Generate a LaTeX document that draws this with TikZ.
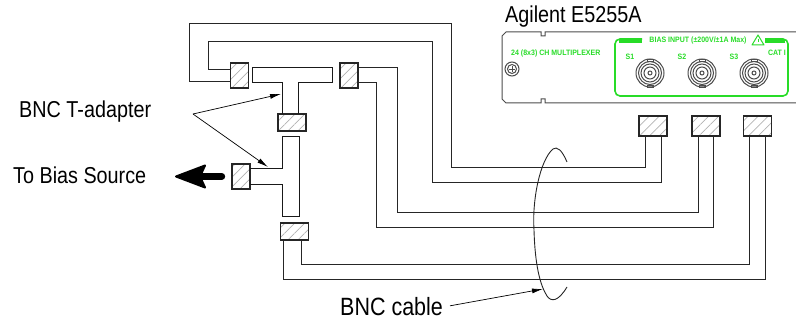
\documentclass[tikz,border=0pt]{standalone}
\usepackage{fontspec}
\setmainfont{Liberation Sans}[FakeStretch=0.86]
\newfontfamily\panelfont{Liberation Sans}[FakeStretch=0.9]
\usetikzlibrary{arrows.meta,patterns.meta}
\definecolor{panelgreen}{RGB}{40,220,40}
\tikzset{
    plug/.style={draw=black!85, line width=1.6pt, inner sep=0pt,
        pattern={Lines[angle=45,distance=7pt,line width=0.7pt]}, pattern color=black!30},
    vplug/.style={plug, minimum width=18pt, minimum height=25pt},
    hplug/.style={plug, minimum width=28pt, minimum height=18pt},
    cable/.style={draw=black!85, line width=0.9pt},
    adapter/.style={draw=black!90, line width=1pt},
    notetext/.style={font=\fontsize{23}{26}\selectfont, inner sep=0pt, anchor=base west},
    pointerline/.style={draw, line width=0.7pt, -{Latex[length=11pt,width=5pt]}},
    panelline/.style={draw=black!70, line width=1pt},
    greentext/.style={text=panelgreen, font=\panelfont\bfseries\fontsize{7.8}{8}\selectfont, inner sep=0pt}
}
\begin{document}
\begin{tikzpicture}[x=1pt, y=-1pt]
    \useasboundingbox (0,0) rectangle (796,320);

    % instrument panel
    \node (agilent) [notetext] at (505,23) {Agilent E5255A};
    \draw [panelline] (800,32) -- (545,32) -- (545,36) -- (541,36) -- (541,32) -- (506,32) -- (502,36)
        -- (502,99) -- (506,103) -- (541,103) -- (541,99) -- (545,99) -- (545,103) -- (800,103);
    \draw [panelline] (512,69) circle [radius=7pt];
    \draw [panelline] (512,69) circle [radius=4.5pt];
    \draw [panelline, line width=0.8pt] (509,69) -- (515,69) (512,66) -- (512,72);
    \node (muxlabel) [greentext, anchor=base west] at (511,56) {24 (8x3) CH MULTIPLEXER};

    \draw [draw=panelgreen, line width=1.6pt, rounded corners=5pt]
        (642,39) -- (615,39) -- (615,96) -- (788,96) -- (788,39) -- (765,39);
    \draw [draw=panelgreen, line width=4pt] (619,41) -- (642,41) (765,41) -- (785,41);
    \node (biasinput) [greentext] at (698,40) {BIAS INPUT (±200V/±1A Max)};
    \draw [draw=panelgreen, line width=1pt, line join=round] (752,45) -- (764,45) -- (758,35) -- cycle;
    \draw [draw=panelgreen, line width=1pt] (758,39) -- (758,42);
    \node (catlabel) [greentext] at (777,53) {CAT I};
    \foreach \sx/\sname in {650/S1, 702/S2, 754/S3} {
        \node [greentext] at (\sx-20,57) {\sname};
        \foreach \r in {14,11.5,9,6} \draw [panelline] (\sx,73) circle [radius=\r pt];
        \draw [panelline] (\sx,73) circle [radius=2pt];
        \draw [panelline, line width=0.7pt] (\sx-3,59) rectangle (\sx+3,61) (\sx-3,85) rectangle (\sx+3,87);
    }

    % BNC connectors
    \node (plugtl) [vplug] at (239.5,75.5) {};
    \node (plugtr) [vplug] at (349,75.5) {};
    \node (plugtc) [hplug, minimum height=17pt] at (292,122.5) {};
    \node (plugbias) [vplug] at (241,176.5) {};
    \node (plugbot) [hplug, minimum height=17pt] at (294.5,231.5) {};
    \node (plugs1) [hplug, minimum height=20pt] at (653,126) {};
    \node (plugs2) [hplug, minimum height=20pt] at (706,126) {};
    \node (plugs3) [hplug, minimum height=20pt] at (757.5,126) {};

    % T-adapters
    \draw [adapter] (282,114) -- (282,83) -- (252,83) -- (252,68) -- (332,68) -- (332,83) -- (298,83) -- (298,114);
    \draw [adapter] (250,169) -- (282,169) -- (282,137) -- (299,137) -- (299,217) -- (282,217) -- (282,185) -- (250,185);

    % cables
    \draw [cable] ([yshift=-5.5pt]plugtl.west) -| (189,23) -| (451,167) -| ([xshift=-8pt]plugs1.south);
    \draw [cable] ([yshift=6.5pt]plugtl.west) -| (208,41) -| (432,182) -| ([xshift=8pt]plugs1.south);
    \draw [cable] ([yshift=8.5pt]plugtr.east) -| (397,212) -| ([xshift=-8pt]plugs2.south);
    \draw [cable] ([yshift=-6.5pt]plugtr.east) -| (376,227) -| ([xshift=7pt]plugs2.south);
    \draw [cable] ([xshift=6.5pt]plugbot.south) |- (749,264) -- ([xshift=-8.5pt]plugs3.south);
    \draw [cable] ([xshift=-11.5pt]plugbot.south) |- (765,279) -- ([xshift=7.5pt]plugs3.south);

    % cable loop
    \draw [cable] (567,162) .. controls (562,150) and (557,146) .. (553,149)
        .. controls (540,160) and (532,200) .. (534,230)
        .. controls (535,265) and (540,285) .. (547,296)
        .. controls (551,302) and (558,302) .. (567,287);
    \coordinate (loop) at (543,289);

    % labels
    \node (tadapter) [notetext] at (19,118) {BNC T-adapter};
    \node (biassource) [notetext] at (13,184) {To Bias Source};
    \node (bnccable) [notetext, font=\fontsize{25}{28}\selectfont] at (340,316) {BNC cable};

    \coordinate (pointer) at (193,114);
    \coordinate (tupper) at (281,94);
    \coordinate (tlower) at (268,176.5);
    \coordinate (biasend) at (176,176.5);
    \draw [pointerline] (pointer) -- (tupper);
    \draw [pointerline] (pointer) -- ([yshift=9.5pt]tlower);

    \draw [pointerline, shorten <=7pt] (bnccable.east) -- (loop);

    % bias source arrow
    \draw [line width=7pt, line cap=round, shorten <=9.5pt, shorten >=22pt] (plugbias.west) -- (biasend);
    \filldraw [line width=2pt, line join=round] (biasend) -- ([xshift=29pt,yshift=11pt]biasend)
        -- ([xshift=24pt]biasend) -- ([xshift=29pt,yshift=-11pt]biasend) -- cycle;
\end{tikzpicture}
\end{document}
